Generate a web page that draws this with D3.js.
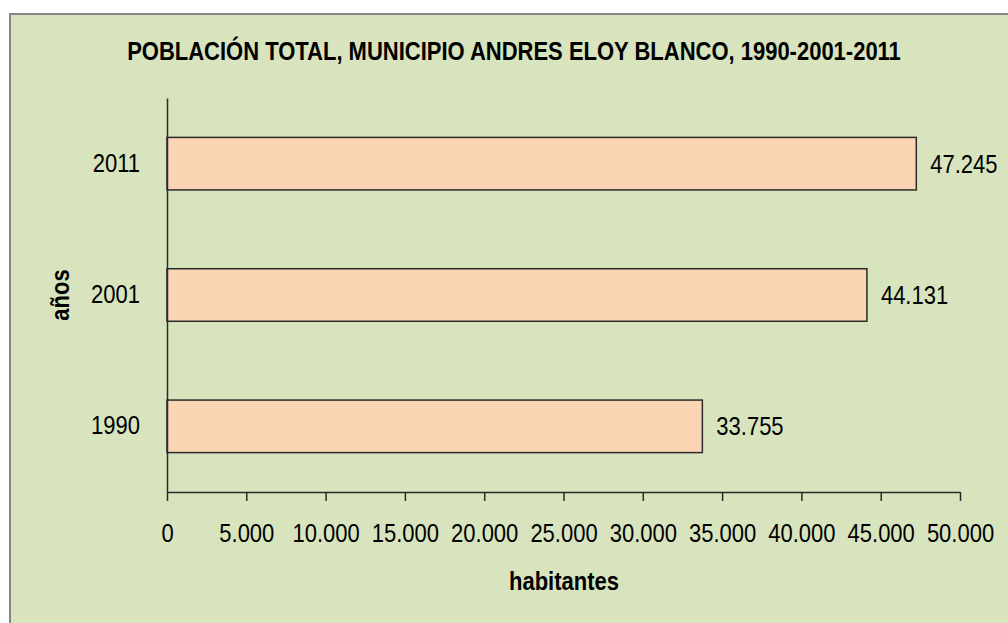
<!DOCTYPE html>
<html>
<head>
    <meta charset="utf-8">
    <title>Población total</title>
    <style>
        body { margin: 0; background: #ffffff; }
        text { font-family: "Liberation Sans", Arial, sans-serif; fill: #000; }
        .title { font-size: 25px; font-weight: bold; }
        .axis-title { font-size: 25px; font-weight: bold; }
        .tick text { font-size: 25px; }
        .bar { fill: #fcd5b5; stroke: #2b2b2b; stroke-width: 1.5px; }
        .value { font-size: 25px; }
    </style>
    <script src="https://d3js.org/d3.v7.min.js"></script>
</head>
<body>
<svg id="chart" width="1008" height="623"></svg>
<script>
    // data
    var years = ["2011", "2001", "1990"];
    var population = [47245, 44131, 33755];
    var xTicks = [0, 5000, 10000, 15000, 20000, 25000, 30000, 35000, 40000, 45000, 50000];

    // the original uses a narrow face; squeeze Liberation Sans instead
    var squeeze = 0.88;

    var svg = d3.select("#chart");

    // chart area background + border (runs past right/bottom edge)
    svg.append("rect")
        .attr("x", 10).attr("y", 14)
        .attr("width", 1010).attr("height", 620)
        .attr("fill", "#d7e4bd")
        .attr("stroke", "#858585")
        .attr("stroke-width", 2);

    var margin = {left: 167, top: 98, right: 960, bottom: 492};

    var x = d3.scaleLinear()
        .domain([0, 50000])
        .range([margin.left, margin.right]);

    var y = d3.scaleBand()
        .domain(years)
        .range([margin.top, margin.bottom])
        .paddingInner(0.6)
        .paddingOuter(0.3);

    var fmt = function (d) { return d3.format(",")(d).replace(/,/g, "."); };

    function narrowText(parent, cls, px, py, str, anchor, rot) {
        return parent.append("text")
            .attr("class", cls)
            .attr("text-anchor", anchor || "start")
            .attr("transform", "translate(" + px + "," + py + ")" + (rot ? " rotate(" + rot + ")" : "") + " scale(" + squeeze + ",1)")
            .text(str);
    }

    // title
    narrowText(svg, "title", 514, 60, "POBLACIÓN TOTAL, MUNICIPIO ANDRES ELOY BLANCO, 1990-2001-2011", "middle");

    // bars
    svg.selectAll(".bar")
        .data(years)
        .join("rect")
        .attr("class", "bar")
        .attr("x", x(0))
        .attr("y", d => y(d))
        .attr("width", (d, i) => x(population[i]) - x(0))
        .attr("height", y.bandwidth());

    // value labels
    years.forEach(function (d, i) {
        narrowText(svg, "value", x(population[i]) + 14, y(d) + y.bandwidth() / 2 + 9, fmt(population[i]));
    });

    // x axis
    var xAxis = svg.append("g")
        .attr("transform", "translate(0," + margin.bottom + ")")
        .call(d3.axisBottom(x).tickValues(xTicks).tickFormat(fmt).tickSize(9).tickSizeOuter(0));
    xAxis.selectAll("line, path").attr("stroke", "#2b2b2b").attr("stroke-width", 1.5);
    xAxis.selectAll("text")
        .attr("font-size", null).attr("font-family", null)
        .attr("dy", null).attr("y", 50)
        .attr("transform", "scale(" + squeeze + ",1)");

    // y axis
    var yAxis = svg.append("g")
        .attr("transform", "translate(" + margin.left + ",0)")
        .call(d3.axisLeft(y).tickSize(0).tickSizeOuter(0));
    yAxis.select("path").attr("stroke", "#2b2b2b").attr("stroke-width", 1.5);
    yAxis.selectAll("text")
        .attr("font-size", null).attr("font-family", null)
        .attr("x", -27 / squeeze)
        .attr("transform", "scale(" + squeeze + ",1)");

    // axis titles
    narrowText(svg, "axis-title", 564, 590, "habitantes", "middle");
    narrowText(svg, "axis-title", 69, 295, "años", "middle", -90);
</script>
</body>
</html>
